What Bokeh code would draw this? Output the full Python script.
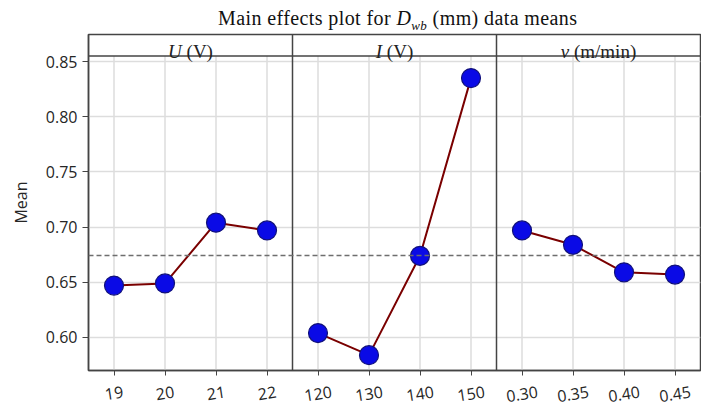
import numpy as np
from bokeh.plotting import figure
from bokeh.models import (Range1d, FixedTicker, Span, Label, LinearAxis, Div,
                          CustomLabelingPolicy)
from bokeh.layouts import column
from bokeh.embed import file_html
from bokeh.resources import INLINE

# ---- data ----
factor_names = ["U", "I", "v"]
factor_units = ["(V)", "(V)", "(m/min)"]
U_levels = ["19", "20", "21", "22"]
U_means = [0.647, 0.649, 0.704, 0.697]
I_levels = ["120", "130", "140", "150"]
I_means = [0.604, 0.584, 0.674, 0.835]
v_levels = ["0.30", "0.35", "0.40", "0.45"]
v_means = [0.697, 0.684, 0.659, 0.657]
y_ticks = [0.60, 0.65, 0.70, 0.75, 0.80, 0.85]

levels = [U_levels, I_levels, v_levels]
means = [U_means, I_means, v_means]
grand_mean = float(np.mean(U_means))

# ---- layout ----
W = 701
PAGE_H = 409
DIV_H = 33
B = 48                      # bottom border (a few px fall below the window)
T = 1
FRAME_BOTTOM_PAGE = 370
H = FRAME_BOTTOM_PAGE - DIV_H + B
L, R = 88, 1
y_lo, y_hi = 0.5701, 0.8745
header_bottom = 0.8550
n_per = 4
n_tot = n_per * len(levels)

p = figure(width=W, height=H, output_backend="svg", toolbar_location=None,
           title_location=None,
           x_range=Range1d(-0.5, n_tot - 0.5), y_range=Range1d(y_lo, y_hi),
           min_border_left=L, min_border_right=R, min_border_top=T,
           min_border_bottom=B, background_fill_color="white",
           border_fill_color="white")
p.outline_line_color = "#444444"
p.outline_line_width = 1.5

frame_w = W - L - R
frame_h = H - T - B
unit_px = frame_w / n_tot
def px_x(px):
    return (px - L) / unit_px - 0.5
def px_y(page_py):
    fig_py = page_py - DIV_H
    return y_lo + (H - B - fig_py) / frame_h * (y_hi - y_lo)

# grids
p.xgrid.visible = False
p.ygrid.ticker = FixedTicker(ticks=y_ticks)
p.ygrid.grid_line_color = "#dddddd"
p.ygrid.grid_line_width = 1.5
xs_all = list(range(n_tot))
p.segment(x0=xs_all, y0=[y_lo] * n_tot, x1=xs_all, y1=[header_bottom] * n_tot,
          line_color="#dddddd", line_width=1.5)

# y axis
p.yaxis.ticker = FixedTicker(ticks=y_ticks)
p.yaxis.major_label_overrides = {t: f"{t:.2f}" for t in y_ticks}
p.yaxis.minor_tick_line_color = None
p.yaxis.major_tick_out = 6
p.yaxis.major_tick_in = 0
p.yaxis.axis_line_color = "#444444"
p.yaxis.axis_line_width = 1.5
p.yaxis.major_tick_line_color = "#444444"
p.yaxis.major_label_text_font = "Open Sans"
p.yaxis.major_label_text_font_size = "16px"
p.yaxis.major_label_text_color = "#262626"
p.yaxis.major_label_standoff = 5
p.yaxis.axis_label = "Mean"
p.yaxis.axis_label_text_font = "Open Sans"
p.yaxis.axis_label_text_font_size = "16px"
p.yaxis.axis_label_text_font_style = "normal"
p.yaxis.axis_label_text_color = "#262626"
p.yaxis.axis_label_standoff = 11

# x axis: tick marks only (labels are drawn by the axis below it)
p.xaxis.ticker = FixedTicker(ticks=xs_all)
p.xaxis.major_label_text_font_size = "0px"
p.xaxis.major_label_standoff = 0
p.xaxis.major_label_policy = CustomLabelingPolicy(
    code="for (const i of indices) { indices.unset(i) }\nreturn indices")
p.xaxis.minor_tick_line_color = None
p.xaxis.major_tick_out = 5
p.xaxis.major_tick_in = 0
p.xaxis.axis_line_color = "#444444"
p.xaxis.axis_line_width = 1.5
p.xaxis.major_tick_line_color = "#444444"

# x tick labels: rotated, centred under the ticks
label_fs = 16
char_em = {".": 0.27}
angle = 0.15
labels_flat = [lab for lv in levels for lab in lv]
shifted = []
overrides = {}
for i, lab in enumerate(labels_flat):
    wpx = sum(char_em.get(c, 0.572) for c in lab) * label_fs
    pos = round(i + (wpx / 2) * np.cos(angle) / unit_px, 4)
    shifted.append(pos)
    overrides[pos] = lab
lab_axis = LinearAxis(ticker=FixedTicker(ticks=shifted),
                      major_label_overrides=overrides,
                      axis_line_color=None, major_tick_line_color=None,
                      minor_tick_line_color=None, major_tick_out=0,
                      major_tick_in=0, major_label_orientation=angle,
                      major_label_standoff=16,
                      major_label_text_font="Open Sans",
                      major_label_text_font_size=f"{label_fs}px",
                      major_label_text_color="#262626")
p.add_layout(lab_axis, "below")

# panel dividers and header line
for k in range(1, len(levels)):
    p.add_layout(Span(location=k * n_per - 0.5, dimension="height",
                      line_color="#444444", line_width=1.5))
p.add_layout(Span(location=header_bottom, dimension="width",
                  line_color="#444444", line_width=1.5))

# grand mean reference
p.add_layout(Span(location=grand_mean, dimension="width", line_color="#6e6e6e",
                  line_width=1.5, line_dash="5 3"))

# data
for k, m in enumerate(means):
    xs = [k * n_per + i for i in range(len(m))]
    p.line(xs, m, line_color="#7a0000", line_width=2)
for k, m in enumerate(means):
    xs = [k * n_per + i for i in range(len(m))]
    p.scatter(xs, m, size=19, fill_color="#0a0ae6", line_color="#12127a",
              line_width=1.2)

# panel headers
serif = "Liberation Serif"
hdr_fs = 19
italic_w = {"U": 0.722, "I": 0.333, "v": 0.444}
unit_w = {"(V)": 1.388, "(m/min)": 3.278}
space_w = 0.25
hdr_base_px = 51
for k, (nm, un) in enumerate(zip(factor_names, factor_units)):
    c_px = L + (k * n_per + 1.5 + 0.5) * unit_px
    w1 = italic_w[nm] * hdr_fs
    ws = space_w * hdr_fs
    w2 = unit_w[un] * hdr_fs
    start = c_px - (w1 + ws + w2) / 2
    p.add_layout(Label(x=px_x(start), y=px_y(hdr_base_px), text=nm,
                       text_font=serif, text_font_style="italic",
                       text_font_size=f"{hdr_fs}px", text_color="#222222",
                       text_baseline="alphabetic", text_align="left"))
    p.add_layout(Label(x=px_x(start + w1 + ws), y=px_y(hdr_base_px), text=un,
                       text_font=serif, text_font_size=f"{hdr_fs}px",
                       text_color="#222222", text_baseline="alphabetic",
                       text_align="left"))

# main title (HTML, with italic D and subscript wb)
title_html = (
    '<div style="position:relative; left:218px; top:7px; white-space:nowrap; '
    "font-family:'Liberation Serif'; font-size:20px; letter-spacing:0.4px; "
    'color:#111111; line-height:normal;">'
    'Main effects plot for <i>D</i><sub style="font-size:13px; '
    'line-height:0;"><i>wb</i></sub> (mm) data means</div>'
)
title = Div(text=title_html, width=W, height=DIV_H, margin=0)

layout = column(title, p, spacing=0, margin=0, width=W, height=PAGE_H,
                styles={"overflow": "hidden"})
open("out.html", "w").write(file_html(layout, INLINE))
